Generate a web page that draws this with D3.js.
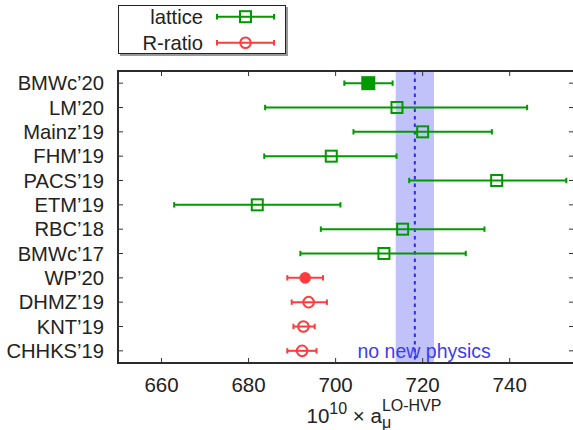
<!DOCTYPE html>
<html>
<head>
<meta charset="utf-8">
<script src="https://cdn.jsdelivr.net/npm/d3@7"></script>
<style>
  body { margin: 0; background: #fff; }
  svg { display: block; font-family: "Liberation Sans", Arial, sans-serif; }
</style>
</head>
<body>
<svg id="chart" width="573" height="430"></svg>
<script>
// results, top to bottom
const labels = ["BMWc’20", "LM’20", "Mainz’19", "FHM’19", "PACS’19", "ETM’19",
                "RBC’18", "BMWc’17", "WP’20", "DHMZ’19", "KNT’19", "CHHKS’19"];
const centers = [707.5, 714.1, 720.0, 699.0, 737.0, 682.0, 715.4, 711.1, 693.0, 693.8, 692.6, 692.3];
const lows    = [702.0, 683.8, 704.1, 683.6, 716.9, 662.9, 696.6, 691.9, 688.9, 689.9, 690.3, 688.9];
const highs   = [713.1, 744.0, 735.9, 714.0, 753.0, 701.1, 734.2, 729.9, 697.1, 698.0, 695.2, 695.6];
const method  = ["lattice", "lattice", "lattice", "lattice", "lattice", "lattice", "lattice", "lattice",
                 "R-ratio", "R-ratio", "R-ratio", "R-ratio"];
const filled  = [true, false, false, false, false, false, false, false, true, false, false, false];

const xTicks = [660, 680, 700, 720, 740];
const band = [713.8, 722.6];
const bandCenter = 718.2;

const colors = {"lattice": "#009a00", "R-ratio": "#ff3c3c"};

const svg = d3.select("#chart");
const plotL = 118, plotR = 575, plotT = 71, plotB = 363;

const x = d3.scaleLinear().domain([650, 755]).range([plotL, plotR]);
const y = d3.scaleLinear().domain([-0.5, labels.length - 0.5]).range([plotT, plotB]);

const rows = labels.map((l, i) => ({label: l, c: centers[i], lo: lows[i], hi: highs[i], m: method[i], f: filled[i], i: i}));

// band for "no new physics"
svg.append("rect")
    .attr("x", x(band[0])).attr("y", plotT)
    .attr("width", x(band[1]) - x(band[0])).attr("height", plotB - plotT)
    .attr("fill", "#c2c2fb");
svg.append("line")
    .attr("x1", x(bandCenter)).attr("x2", x(bandCenter))
    .attr("y1", plotT).attr("y2", plotB)
    .attr("stroke", "#2a2aff").attr("stroke-width", 2)
    .attr("stroke-dasharray", "3.5,4");

svg.append("text")
    .attr("x", 357.5).attr("y", 358)
    .attr("fill", "#3c3cf0").attr("font-size", 19.5)
    .text("no new physics");

// error bars and markers
function drawMarker(g, m, f, cx, cy) {
    const col = colors[m];
    if (m === "lattice") {
        const s = f ? 14 : 11;
        g.append("rect")
            .attr("x", cx - s / 2).attr("y", cy - s / 2)
            .attr("width", s).attr("height", s)
            .attr("fill", f ? col : "none")
            .attr("stroke", f ? "none" : col).attr("stroke-width", 2);
    } else {
        g.append("circle")
            .attr("cx", cx).attr("cy", cy).attr("r", f ? 5.8 : 5.3)
            .attr("fill", f ? col : "none")
            .attr("stroke", f ? "none" : col).attr("stroke-width", 2);
    }
}

function drawBar(g, col, x1, x2, cy) {
    g.append("line").attr("x1", x1).attr("x2", x2).attr("y1", cy).attr("y2", cy)
        .attr("stroke", col).attr("stroke-width", 2);
    [x1, x2].forEach(xx => {
        g.append("line").attr("x1", xx).attr("x2", xx).attr("y1", cy - 2.7).attr("y2", cy + 2.7)
            .attr("stroke", col).attr("stroke-width", 2);
    });
}

const pts = svg.append("g");
rows.forEach(d => {
    const g = pts.append("g");
    drawBar(g, colors[d.m], x(d.lo), Math.min(x(d.hi), plotR - 2), y(d.i));
    drawMarker(g, d.m, d.f, x(d.c), y(d.i));
});

// frame
svg.append("rect")
    .attr("x", plotL).attr("y", plotT)
    .attr("width", plotR - plotL).attr("height", plotB - plotT)
    .attr("fill", "none").attr("stroke", "#2b2b2b").attr("stroke-width", 2);

// ticks
const tk = svg.append("g").attr("stroke", "#333").attr("stroke-width", 1);
xTicks.forEach(v => {
    tk.append("line").attr("x1", x(v)).attr("x2", x(v)).attr("y1", plotB).attr("y2", plotB - 5);
    tk.append("line").attr("x1", x(v)).attr("x2", x(v)).attr("y1", plotT).attr("y2", plotT + 5);
});
rows.forEach(d => {
    tk.append("line").attr("x1", plotL).attr("x2", plotL + 5).attr("y1", y(d.i)).attr("y2", y(d.i));
    tk.append("line").attr("x1", 569).attr("x2", 574).attr("y1", y(d.i)).attr("y2", y(d.i));
});

// tick labels
svg.append("g").selectAll("text")
    .data(xTicks).enter().append("text")
    .attr("x", d => x(d)).attr("y", 392)
    .attr("text-anchor", "middle").attr("font-size", 20.5).attr("fill", "#222")
    .text(d => d);

svg.append("g").selectAll("text")
    .data(rows).enter().append("text")
    .attr("x", 104).attr("y", d => y(d.i) + 7)
    .attr("text-anchor", "end").attr("font-size", 20.2).attr("fill", "#222")
    .text(d => d.label);

// axis title: 10^10 x a_mu^LO-HVP
const title = svg.append("text")
    .attr("x", 306.5).attr("y", 423).attr("font-size", 20.5).attr("fill", "#222");
title.append("tspan").text("10");
title.append("tspan").attr("font-size", 16).attr("dy", -9).text("10");
title.append("tspan").attr("dy", 9).text(" × a");
const sub = title.append("tspan").attr("font-size", 16).attr("dy", 5).text("μ");
const subW = sub.node().getComputedTextLength();
title.append("tspan").attr("font-size", 16).attr("dx", -subW).attr("dy", -17).text("LO-HVP");

// legend
const lg = svg.append("g");
lg.append("rect").attr("x", 120).attr("y", 7).attr("width", 168).attr("height", 49)
    .attr("fill", "#999");
lg.append("rect").attr("x", 118.5).attr("y", 5.5).attr("width", 167).attr("height", 48)
    .attr("fill", "#fff").attr("stroke", "#222").attr("stroke-width", 1);
const legendItems = ["lattice", "R-ratio"];
legendItems.forEach((m, k) => {
    const ly = 16.7 + k * 26;
    lg.append("text").attr("x", 203).attr("y", ly + 7.5)
        .attr("text-anchor", "end").attr("font-size", 20.2).attr("fill", "#222").text(m);
    const g = lg.append("g");
    drawBar(g, colors[m], 217, 274, ly);
    drawMarker(g, m, false, 245.5, ly);
});
</script>
</body>
</html>
